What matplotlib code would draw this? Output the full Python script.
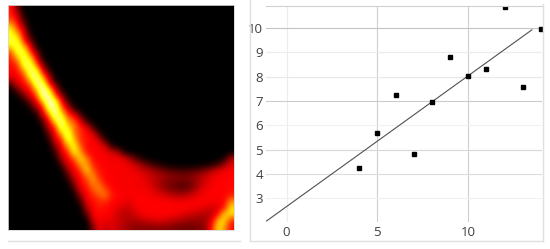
import numpy as np
import matplotlib
matplotlib.use("Agg")
import matplotlib.pyplot as plt
from matplotlib.colors import LinearSegmentedColormap
from matplotlib.lines import Line2D

# values, one row per 6 px: (first non-black cell, values)
heat_rows = [
    (0, [.42,.15]),
    (0, [.42,.30,.03]),
    (0, [.50,.37,.10]),
    (0, [.70,.45,.25]),
    (0, [.78,.62,.36,.05]),
    (0, [.80,.78,.42,.15]),
    (0, [.72,.85,.62,.36,.03]),
    (0, [.50,.82,.82,.50,.20]),
    (0, [.42,.62,.85,.72,.38,.03]),
    (0, [.38,.45,.82,.85,.55,.20]),
    (0, [.37,.38,.60,.88,.80,.40,.08]),
    (0, [.33,.37,.42,.78,.92,.62,.30]),
    (0, [.15,.33,.38,.50,.92,.85,.42,.12]),
    (0, [.02,.15,.33,.38,.65,1.0,.72,.36,.03]),
    (1, [.02,.15,.33,.45,.92,.95,.50,.25]),
    (2, [.02,.15,.35,.62,1.0,.85,.42,.12]),
    (3, [.03,.20,.38,.85,.95,.55,.33,.05]),
    (4, [.03,.30,.58,.95,.75,.45,.35,.10]),
    (5, [.12,.38,.75,.92,.58,.50,.33,.08]),
    (5, [.03,.30,.45,.90,.72,.55,.42,.33,.10]),
    (6, [.15,.38,.65,.90,.55,.45,.38,.33,.08]),
    (6, [.05,.33,.42,.85,.68,.42,.40,.36,.30,.05]),
    (7, [.20,.37,.62,.80,.50,.38,.37,.36,.30,.05]),
    (7, [.08,.33,.42,.78,.62,.38,.37,.36,.36,.30,.25,.03]),
    (8, [.25,.37,.50,.72,.55,.38,.37,.36,.36,.36,.33,.22,.10,.03,0,0,0,0,0,0,0,0,0,0,0,0,.03,.25]),
    (8, [.10,.33,.38,.60,.65,.42,.38,.37,.36,.36,.36,.33,.28,.20,.12,.07,.03,.01,0,0,0,0,0,.01,.03,.10,.22,.33]),
    (9, [.20,.36,.42,.70,.50,.40,.37,.36,.36,.36,.36,.33,.30,.27,.22,.18,.14,.12,.10,.10,.12,.15,.20,.27,.33,.36,.37]),
    (9, [.08,.30,.38,.50,.62,.42,.38,.37,.36,.36,.36,.36,.34,.30,.27,.25,.22,.20,.20,.20,.22,.26,.30,.34,.36,.37,.37]),
    (10, [.20,.37,.42,.58,.52,.38,.37,.36,.36,.36,.36,.35,.32,.27,.22,.18,.16,.14,.14,.18,.25,.32,.36,.37,.37,.38]),
    (10, [.08,.33,.38,.48,.58,.48,.38,.37,.36,.36,.36,.36,.35,.30,.25,.20,.17,.15,.16,.22,.30,.35,.37,.37,.37,.38]),
    (11, [.20,.37,.42,.48,.55,.40,.37,.36,.36,.37,.37,.36,.35,.33,.30,.28,.27,.28,.32,.35,.37,.37,.37,.37,.42]),
    (11, [.08,.33,.38,.42,.42,.38,.37,.35,.34,.37,.37,.37,.37,.37,.37,.36,.36,.36,.37,.37,.37,.36,.36,.37,.60]),
    (12, [.25,.37,.40,.38,.37,.33,.30,.30,.36,.37,.37,.37,.37,.37,.37,.37,.37,.36,.35,.32,.30,.33,.42,.72]),
    (12, [.12,.35,.38,.37,.36,.30,.27,.28,.32,.36,.37,.37,.37,.37,.36,.34,.31,.29,.27,.25,.28,.40,.70,.70]),
    (13, [.30,.37,.33,.34,.30,.27,.25,.25,.27,.30,.32,.32,.30,.27,.25,.23,.22,.22,.24,.35,.65,.72,.42]),
    (13, [.15,.36,.30,.32,.30,.25,.22,.20,.20,.20,.20,.20,.20,.18,.17,.16,.17,.18,.22,.42,.72,.60,.38]),
]
n_cols = 36

# points on the right panel
x_pts = [4, 5, 6, 7, 8, 9, 10, 11, 12, 13, 14]
y_pts = [4.26, 5.68, 7.24, 4.82, 6.95, 8.81, 8.04, 8.33, 10.84, 7.58, 9.96]
line_x = [-1.1, 13.5]
line_y = [2.07, 9.92]
x_ticks = [0, 5, 10]
y_ticks = [3, 4, 5, 6, 7, 8, 9, 10]
x_grid_colors = ['#ececec', '#cfcfcf', '#cfcfcf']
y_grid_colors = ['#f0f0f0', '#dcdcdc', '#d8d8d8', '#f0f0f0', '#cccccc', '#e8e8e8', '#ececec', '#c4c4c4']

W, H = 550, 249


def rect(left, top, right, bottom):
    return [left / W, 1 - bottom / H, (right - left) / W, (bottom - top) / H]


heat = np.zeros((len(heat_rows), n_cols))
for i, (start, vals) in enumerate(heat_rows):
    heat[i, start:start + len(vals)] = vals

plt.rcParams['font.family'] = ['Open Sans', 'DejaVu Sans']
fig = plt.figure(figsize=(5.5, 2.49), dpi=100)

# heat panel, pure black at zero
heat_cmap = LinearSegmentedColormap.from_list(
    'heat', [(0, 'black'), (0.37, 'red'), (0.75, 'yellow'), (1, 'white')])
ax1 = fig.add_axes(rect(8.3, 5.3, 233.5, 230))
ax1.imshow(heat, cmap=heat_cmap, vmin=0, vmax=1, aspect='auto', interpolation='bicubic')
ax1.set_xticks([])
ax1.set_yticks([])
for s in ax1.spines.values():
    s.set_color('#d8d8d8')
    s.set_linewidth(0.6)

# scatter panel
ax2 = fig.add_axes(rect(266, 6, 541.7, 221.7))
ax2.set_xlim(-1.13, 14.04)
ax2.set_ylim(2.04, 10.9)
ax2.set_xticks(x_ticks)
ax2.set_yticks(y_ticks)
ax2.tick_params(length=0, labelsize=9.5, labelcolor='#404040', pad=2)
ax2.tick_params(axis='x', pad=3)
ax2.grid(True, linewidth=0.8)
for gl, c in zip(ax2.get_xgridlines(), x_grid_colors):
    gl.set_color(c)
for gl, c in zip(ax2.get_ygridlines(), y_grid_colors):
    gl.set_color(c)
ax2.set_axisbelow(True)
for s in ax2.spines.values():
    s.set_visible(False)
ax2.spines['top'].set_visible(True)
ax2.spines['top'].set_color('#d0d0d0')
ax2.plot(line_x, line_y, color='#505050', linewidth=0.8)
ax2.plot(x_pts, y_pts, 's', color='black', markersize=2.6)

# panel frames
for xs, ys in [([8, 240], [240.5, 240.5]), ([250, 250], [0, 241]),
               ([250, 543], [241, 241]), ([543, 543], [4, 241])]:
    fig.add_artist(Line2D([v / W for v in xs], [1 - v / H for v in ys],
                          color='#e0e0e0', linewidth=1.0))

plt.savefig('out.png', dpi=100)
